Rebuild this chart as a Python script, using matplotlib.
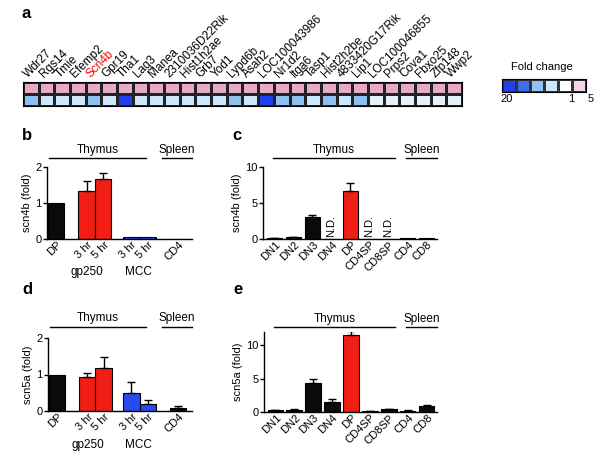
import matplotlib
matplotlib.use('Agg')
import matplotlib.pyplot as plt
import numpy as np
from matplotlib.colors import ListedColormap, BoundaryNorm
import matplotlib.transforms as mtransforms

plt.rcParams['font.family'] = ['Liberation Sans', 'DejaVu Sans']

# ---- data ----
genes = ['Wdr27', 'Rgs14', 'Tmie', 'Efemp2', 'Scn4b', 'Gpr19', 'Tha1', 'Lag3', 'Manea',
         '2310036D22Rik', 'Hist1h2ae', 'Grb7', 'Yod1', 'Lypd6b', 'Asah2', 'LOC100043986',
         'Nr1d2', 'Itga6', 'Tasp1', 'Hist2h2be', '4833420G17Rik', 'Lip1', 'LOC100046855',
         'Prps2', 'Cova1', 'Fbxo25', 'Zfp148', 'Wwp2']
# signed fold change (negative = down)
fold_row1 = [4] * 28
fold_row2 = [-6, -3, -3, -3, -6, -3, -20, -3, -3, -3, -3, -3, -3, -6, -3, -20,
             -6, -6, -3, -6, -3, -6, -2, -2, -2, -2, -2, -2]
legend_labels = ['20', '1', '5']

b_labels = ['DP', '3 hr', '5 hr', '3 hr', '5 hr', 'CD4']
b_pos = [0, 1.85, 2.85, 4.55, 5.55, 7.4]
b_vals = [1.0, 1.33, 1.68, 0.045, 0.065, 0.01]
b_err = [0, 0.28, 0.16, 0, 0, 0]
b_cols = ['k', 'r', 'r', 'b', 'b', 'k']

d_vals = [1.0, 0.92, 1.17, 0.48, 0.2, 0.09]
d_err = [0, 0.12, 0.3, 0.32, 0.11, 0.05]

ce_labels = ['DN1', 'DN2', 'DN3', 'DN4', 'DP', 'CD4SP', 'CD8SP', 'CD4', 'CD8']
ce_pos = list(range(9))
ce_cols = ['k', 'k', 'k', 'k', 'r', 'k', 'k', 'k', 'k']
c_vals = [0.15, 0.25, 3.05, 0, 6.7, 0, 0, 0.1, 0.07]
c_err = [0.05, 0.05, 0.3, 0, 1.1, 0, 0, 0, 0]
c_nd = [3, 5, 6]
e_vals = [0.25, 0.35, 4.4, 1.55, 11.6, 0.1, 0.45, 0.2, 0.95]
e_err = [0.05, 0.05, 0.6, 0.4, 0.5, 0.02, 0.05, 0.03, 0.08]

RED = '#f01e14'
BLUE = '#2a4bef'
cmap_map = {'k': '#0a0a0a', 'r': RED, 'b': BLUE}

W, H = 601, 463
fig = plt.figure(figsize=(W / 100, H / 100), dpi=100)


def box(l, t, r, b):
    return fig.add_axes([l / W, 1 - b / H, (r - l) / W, (b - t) / H])


# ---- panel a: heatmap ----
ax = box(23, 82, 462, 106)
hm_cols = ['#1e3cf0', '#3d6ef0', '#8dbff0', '#cde6fa', '#e3f1fb', '#ffffff', '#e6aac8']
norm = BoundaryNorm([-30, -12, -8, -4, -2.5, -1.5, 1.5, 10], len(hm_cols))
ax.pcolormesh(np.array([fold_row1, fold_row2]), cmap=ListedColormap(hm_cols), norm=norm,
              edgecolors='#222222', linewidth=0.8)
ax.set_xlim(0, 28)
ax.set_ylim(2, 0)
ax.set_xticks([])
ax.set_yticks([])
for s in ax.spines.values():
    s.set_linewidth(0.8)
for i, g in enumerate(genes):
    ax.text(i + 0.45, -0.15, g, rotation=45, rotation_mode='anchor', ha='left', va='bottom',
            fontsize=8.5, color='red' if g == 'Scn4b' else 'black', clip_on=False)

# legend
lax = box(502, 79, 586, 92)
leg_cols = ['#2240f0', '#3d6ef0', '#8fc3f3', '#cde6fa', '#ffffff', '#f6d3e6']
lax.pcolormesh(np.arange(6).reshape(1, -1), cmap=ListedColormap(leg_cols),
               edgecolors='#333333', linewidth=0.8)
lax.set_xticks([])
lax.set_yticks([])
lax.text(0.476, 1.9, 'Fold change', transform=lax.transAxes, ha='center', va='center', fontsize=8)
for xx, t in zip([0.05, 0.82, 1.05], legend_labels):
    lax.text(xx, -0.5, t, transform=lax.transAxes, ha='center', va='center', fontsize=8)


def bar_panel(ax, pos, vals, errs, cols, width, ymax, yticks, ylabel, labels, xlim):
    ax.bar(pos, vals, width, color=[cmap_map[c] for c in cols], edgecolor='black',
           linewidth=0.8, zorder=2)
    pe = [p for p, e in zip(pos, errs) if e > 0]
    ve = [v for v, e in zip(vals, errs) if e > 0]
    ee = [e for e in errs if e > 0]
    ax.errorbar(pe, ve, yerr=[np.zeros(len(ee)), ee], fmt='none', ecolor='black',
                elinewidth=1, capsize=3, capthick=1, zorder=3)
    ax.set_xlim(*xlim)
    ax.set_ylim(0, ymax)
    ax.set_yticks(yticks)
    ax.spines['top'].set_visible(False)
    ax.spines['right'].set_visible(False)
    ax.spines['left'].set_linewidth(1)
    ax.spines['bottom'].set_linewidth(1)
    ax.tick_params(axis='y', labelsize=8, length=3, width=1, pad=1)
    ax.tick_params(axis='x', length=0, pad=3)
    ax.set_xticks(pos)
    ax.set_xticklabels(labels, rotation=45, ha='right', va='center',
                       rotation_mode='anchor', fontsize=8)
    shift = mtransforms.ScaledTranslation(4 / 100, 0, fig.dpi_scale_trans)
    for lab in ax.get_xticklabels():
        lab.set_transform(lab.get_transform() + shift)
    ax.set_ylabel(ylabel, fontsize=8, labelpad=2)


def groups(ax, yl, yt, segs):
    for x0, x1, t in segs:
        ax.plot([x0, x1], [yl, yl], transform=ax.transAxes, clip_on=False, color='black', lw=1)
        ax.text((x0 + x1) / 2, yt, t, transform=ax.transAxes, ha='center', va='center',
                fontsize=8.5)


def sublabels(ax, y):
    tr = mtransforms.blended_transform_factory(ax.transData, ax.transAxes)
    ax.text(1.9, y, 'gp250', transform=tr, ha='center', va='center', fontsize=8.5)
    ax.text(5.0, y, 'MCC', transform=tr, ha='center', va='center', fontsize=8.5)


# ---- panel b ----
ax = box(47, 167, 192, 239)
bar_panel(ax, b_pos, b_vals, b_err, b_cols, 1.0, 2, [0, 1, 2], 'scn4b (fold)', b_labels,
          (-0.55, 8.25))
groups(ax, 1.12, 1.236, [(0.014, 0.683, 'Thymus'), (0.793, 1.0, 'Spleen')])
sublabels(ax, -0.46)

# ---- panel c ----
ax = box(263, 167, 437, 239)
bar_panel(ax, ce_pos, c_vals, c_err, ce_cols, 0.82, 10, [0, 5, 10], 'scn4b (fold)', ce_labels,
          (-0.6, 8.55))
for p in c_nd:
    ax.text(p, 0.3, 'N.D.', rotation=90, ha='center', va='bottom', fontsize=8)
groups(ax, 1.12, 1.236, [(0.057, 0.759, 'Thymus'), (0.822, 1.0, 'Spleen')])

# ---- panel d ----
ax = box(48, 338, 192, 411)
bar_panel(ax, b_pos, d_vals, d_err, b_cols, 1.0, 2, [0, 1, 2], 'scn5a (fold)', b_labels,
          (-0.55, 8.25))
groups(ax, 1.155, 1.27, [(0.014, 0.683, 'Thymus'), (0.793, 1.0, 'Spleen')])
sublabels(ax, -0.47)

# ---- panel e ----
ax = box(264, 332, 437, 412)
bar_panel(ax, ce_pos, e_vals, e_err, ce_cols, 0.82, 12, [0, 5, 10], 'scn5a (fold)', ce_labels,
          (-0.6, 8.55))
groups(ax, 1.062, 1.167, [(0.057, 0.759, 'Thymus'), (0.822, 1.0, 'Spleen')])

# panel letters
for t, x, y in [('a', 26, 14), ('b', 27, 135), ('c', 237, 135), ('d', 27, 289), ('e', 238, 289)]:
    fig.text(x / W, 1 - y / H, t, fontsize=12, fontweight='bold', ha='center', va='center')

fig.savefig('out.png', dpi=100)
